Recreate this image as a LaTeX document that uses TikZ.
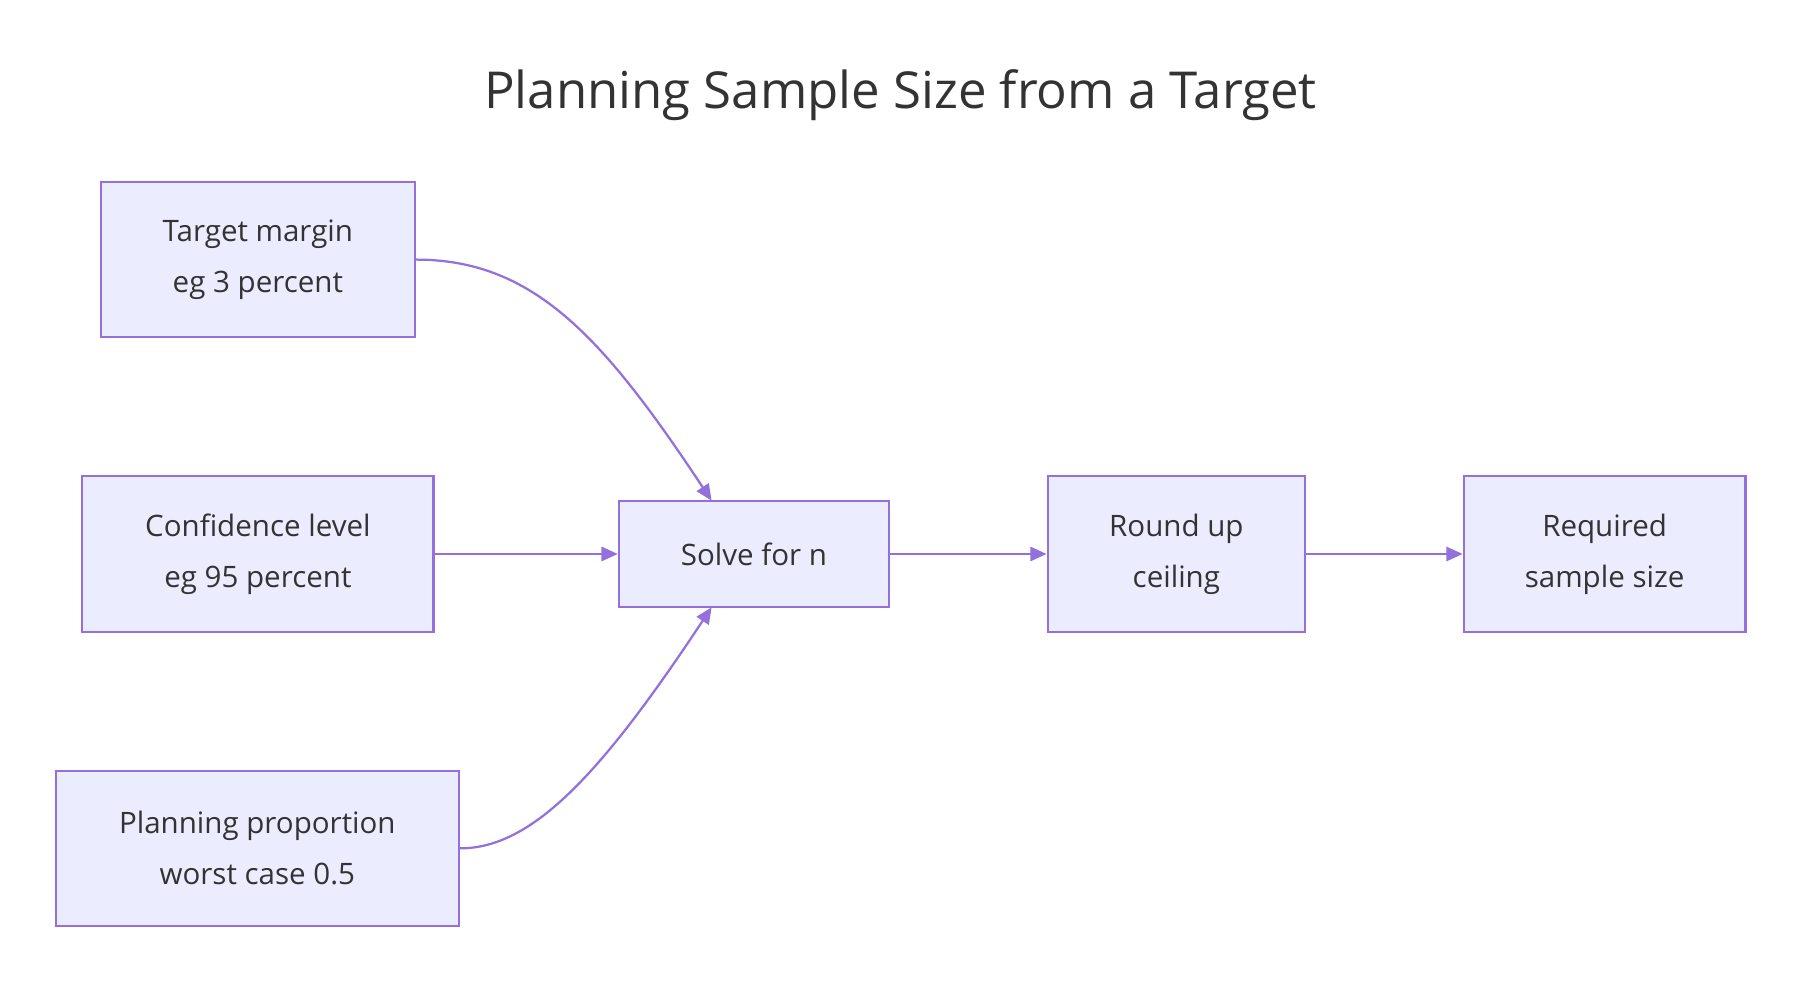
\documentclass[tikz,border=0pt]{standalone}
\usepackage{fontspec}
\setmainfont{Open Sans}
\usetikzlibrary{arrows.meta}
\definecolor{nfill}{HTML}{ECECFF}
\definecolor{nline}{HTML}{9370DB}
\definecolor{ntext}{HTML}{333333}
\begin{document}
\begin{tikzpicture}[x=0.02cm,y=-0.02cm,
  box/.style={draw=nline,fill=nfill,line width=1.1pt,text=ntext,font=\fontsize{14.5}{25}\selectfont,align=center,inner sep=0pt},
  conn/.style={draw=nline,line width=1.1pt,-{Triangle[length=8pt,width=7pt]}}]
\useasboundingbox (0,0) rectangle (1560,851);
\node[text=ntext,font=\fontsize{25}{30}\selectfont] (title) at (777,82) {Planning Sample Size from a Target};
\node[box,minimum width=271*0.02cm,minimum height=134*0.02cm] (a) at (222.5,224) {Target margin\\eg 3 percent};
\node[box,minimum width=303*0.02cm,minimum height=134*0.02cm] (b) at (222.5,478) {Confidence level\\eg 95 percent};
\node[box,minimum width=348*0.02cm,minimum height=134*0.02cm] (c) at (222,732) {Planning proportion\\worst case 0.5};
\node[box,minimum width=233*0.02cm,minimum height=92*0.02cm] (s) at (650.5,478) {Solve for n};
\node[box,minimum width=222*0.02cm,minimum height=134*0.02cm] (r) at (1015,478) {Round up\\ceiling};
\node[box,minimum width=243*0.02cm,minimum height=134*0.02cm] (q) at (1384.5,478) {Required\\sample size};
\coordinate (sa) at (614,432);
\coordinate (sc) at (614,524);
\draw[conn] (a.east) .. controls (460,224) and (520,290) .. (sa);
\draw[conn] (c.east) .. controls (460,732) and (520,666) .. (sc);
\draw[conn] (b) -- (s);
\draw[conn] (s) -- (r);
\draw[conn] (r) -- (q);
\end{tikzpicture}
\end{document}
